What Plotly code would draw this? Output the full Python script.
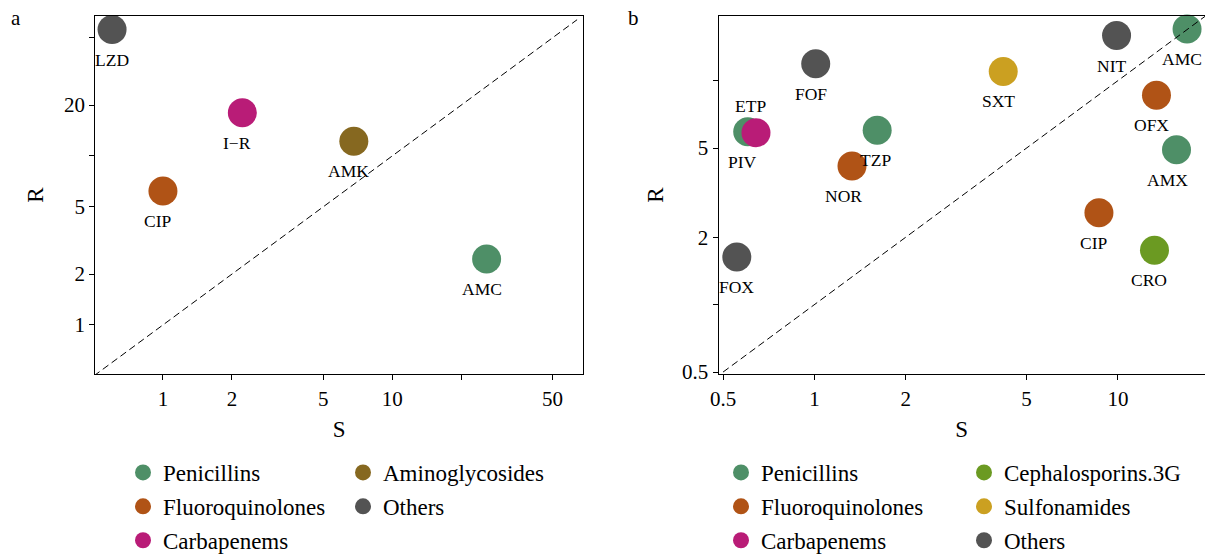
import numpy as np
import plotly.graph_objects as go

# ---------------- data ----------------
# panel a
a_labels = ["LZD", "I\u2212R", "AMK", "CIP", "AMC"]
a_S = [0.60, 2.22, 6.8, 1.0, 25.8]
a_R = [56.0, 18.0, 12.2, 6.2, 2.46]
a_class = ["Others", "Carbapenems", "Aminoglycosides", "Fluoroquinolones", "Penicillins"]

# panel b
b_labels = ["AMC", "NIT", "FOF", "SXT", "OFX", "PIV", "ETP", "TZP", "NOR", "AMX", "CIP", "CRO", "FOX"]
b_S = [16.9, 9.9, 1.01, 4.19, 13.4, 0.603, 0.642, 1.61, 1.33, 15.6, 8.66, 13.2, 0.555]
b_R = [17.0, 15.9, 11.9, 11.0, 8.6, 5.92, 5.86, 6.0, 4.16, 4.92, 2.57, 1.75, 1.63]
b_class = ["Penicillins", "Others", "Others", "Sulfonamides", "Fluoroquinolones", "Penicillins",
           "Carbapenems", "Penicillins", "Fluoroquinolones", "Penicillins", "Fluoroquinolones",
           "Cephalosporins.3G", "Others"]

# diagonal (S = R) reference line end points
diag_a = [0.5, 64.0]
diag_b = [0.5, 19.5]

# tick values / labels
a_xtickvals = [1, 2, 5, 10, 20, 50]
a_xticktext = ["1", "2", "5", "10", "", "50"]
a_ytickvals = [1, 2, 5, 10, 20, 50]
a_yticktext = ["1", "2", "5", "", "20", ""]
b_xtickvals = [0.5, 1, 2, 5, 10]
b_xticktext = ["0.5", "1", "2", "5", "10"]
b_ytickvals = [0.5, 1, 2, 5, 10]
b_yticktext = ["0.5", "", "2", "5", ""]

# legend layout (class order per legend column)
a_legend_cols = [["Penicillins", "Fluoroquinolones", "Carbapenems"], ["Aminoglycosides", "Others"]]
b_legend_cols = [["Penicillins", "Fluoroquinolones", "Carbapenems"], ["Cephalosporins.3G", "Sulfonamides", "Others"]]

# ---------------- styles ----------------
colors = {
    "Penicillins": "#4E8F67",
    "Fluoroquinolones": "#B05316",
    "Carbapenems": "#B91C77",
    "Aminoglycosides": "#866820",
    "Others": "#535353",
    "Cephalosporins.3G": "#6B9A22",
    "Sulfonamides": "#CBA021",
}
# label placement (pixel nudges, like a repel layout)
label_yshift_default = -30
label_yshift = {"ETP": 27}
label_xshift_default = -5
label_xshift = {"LZD": 0, "FOX": 0, "AMX": -9, "NOR": -8, "TZP": -2}
FONT = "Liberation Serif"
W, H = 1205, 554


def xp(px):
    return px / W


def yp(py):
    return 1 - py / H


fig = go.Figure()
annotations = []


def add_panel(labels, S, R, classes, legend_cols, xaxis, yaxis, legend_names, prefix):
    for col_idx, col in enumerate(legend_cols):
        for cls in col:
            idx = [i for i, c in enumerate(classes) if c == cls]
            fig.add_trace(go.Scatter(
                x=[S[i] for i in idx],
                y=[R[i] for i in idx],
                mode="markers",
                name=cls,
                legendgroup=prefix + cls,
                marker=dict(size=29, color=colors[cls], line=dict(width=0)),
                xaxis=xaxis, yaxis=yaxis,
                legend=legend_names[col_idx],
                cliponaxis=False,
            ))
    for lab, s, r in zip(labels, S, R):
        annotations.append(dict(
            text=lab, x=np.log10(s), y=np.log10(r), xref=xaxis, yref=yaxis,
            showarrow=False, xanchor="center", yanchor="middle",
            xshift=label_xshift.get(lab, label_xshift_default),
            yshift=label_yshift.get(lab, label_yshift_default),
            font=dict(family=FONT, size=17.5, color="black"),
        ))


add_panel(a_labels, a_S, a_R, a_class, a_legend_cols, "x", "y", ["legend", "legend2"], "a_")
add_panel(b_labels, b_S, b_R, b_class, b_legend_cols, "x2", "y2", ["legend3", "legend4"], "b_")

for diag, xa, ya in [(diag_a, "x", "y"), (diag_b, "x2", "y2")]:
    fig.add_trace(go.Scatter(x=diag, y=diag, mode="lines", showlegend=False,
                             line=dict(color="black", width=1, dash="7px,4px"),
                             xaxis=xa, yaxis=ya, hoverinfo="skip"))

axis_common = dict(type="log", showgrid=False, zeroline=False, showline=True,
                   linecolor="black", linewidth=1, ticks="outside", ticklen=5,
                   tickcolor="black", tickwidth=1,
                   tickfont=dict(family=FONT, size=21, color="black"),
                   title_font=dict(family=FONT, size=23, color="black"))

annotations += [
    dict(text="a", x=xp(16), y=yp(18), xref="paper", yref="paper", showarrow=False,
         xanchor="center", yanchor="middle", font=dict(family=FONT, size=21, color="black")),
    dict(text="b", x=xp(633), y=yp(18), xref="paper", yref="paper", showarrow=False,
         xanchor="center", yanchor="middle", font=dict(family=FONT, size=21, color="black")),
]

fig.update_layout(
    width=W, height=H,
    template="none",
    paper_bgcolor="white", plot_bgcolor="white",
    margin=dict(l=0, r=0, t=0, b=0, autoexpand=False),
    xaxis=dict(axis_common, domain=[xp(95.3), xp(583)], range=[-0.295, 1.832],
               tickvals=a_xtickvals, ticktext=a_xticktext, mirror=True, anchor="y",
               title=dict(text="S", standoff=11)),
    yaxis=dict(axis_common, domain=[yp(374.3), yp(15.7)], range=[-0.292, 1.830],
               tickvals=a_ytickvals, ticktext=a_yticktext, mirror=True, anchor="x",
               title=dict(text="R", standoff=14)),
    xaxis2=dict(axis_common, domain=[xp(718.5), 1.0], range=[-0.316, 1.287],
                tickvals=b_xtickvals, ticktext=b_xticktext, mirror=True, anchor="y2",
                title=dict(text="S", standoff=11)),
    yaxis2=dict(axis_common, domain=[yp(374.3), yp(15.7)], range=[-0.311, 1.290],
                tickvals=b_ytickvals, ticktext=b_yticktext, mirror=False, anchor="x2",
                title=dict(text="R", standoff=11)),
    showlegend=True,
    annotations=annotations,
)

legend_font = dict(family=FONT, size=23, color="black")
legend_pos = {"legend": 143, "legend2": 363, "legend3": 741, "legend4": 984}
for lname, mx in legend_pos.items():
    fig.update_layout({lname: dict(x=xp(mx - 20), y=yp(451), xanchor="left", yanchor="top",
                                   orientation="v", font=legend_font, bgcolor="rgba(0,0,0,0)",
                                   borderwidth=0, tracegroupgap=1)})

fig.write_html(
    "out.html",
    config={"displayModeBar": False},
    post_script="document.body.style.margin='0';document.body.style.overflow='hidden';",
)
